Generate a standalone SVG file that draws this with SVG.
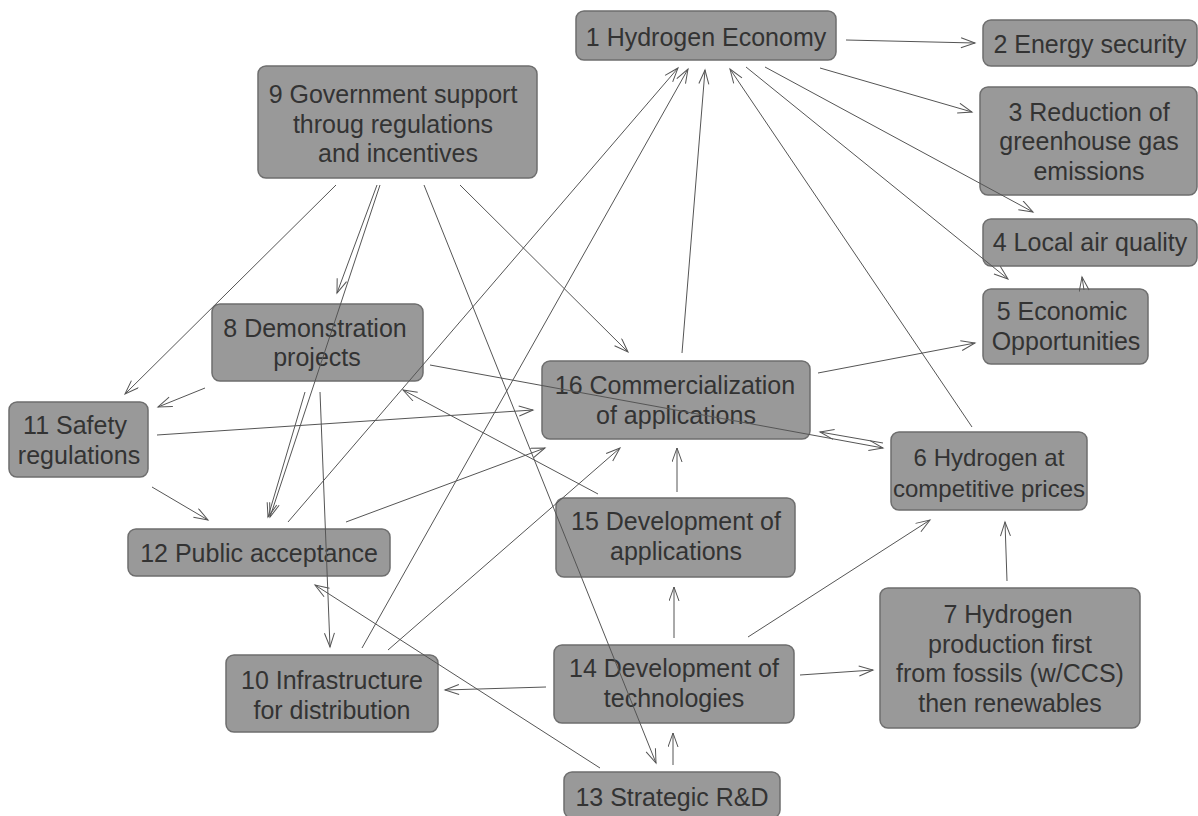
<svg xmlns="http://www.w3.org/2000/svg" width="1198" height="816" viewBox="0 0 1198 816">
<style>
.box{fill:#999999;stroke:#6e6e6e;stroke-width:1.5}
.t{font-family:"Liberation Sans",Arial,sans-serif;font-size:25px;fill:#333333;text-anchor:middle}
.s{font-size:24px}
.c line{stroke:#555555;stroke-width:1;fill:none;marker-end:url(#ah)}
</style>
<defs>
<marker id="ah" markerUnits="userSpaceOnUse" markerWidth="18" markerHeight="12" refX="15" refY="5.5" orient="auto">
<path d="M1,0.5 L15,5.5 L1,10.5" fill="none" stroke="#555555" stroke-width="1"/>
</marker>
</defs>
<rect width="1198" height="816" fill="#ffffff"/>
<g id="nodes">
<g id="n1"><rect class="box" x="576" y="11" width="260" height="49" rx="8"/><text class="t" x="706" y="46">1 Hydrogen Economy</text></g>
<g id="n2"><rect class="box" x="983" y="20" width="214" height="46" rx="8"/><text class="t" x="1090" y="53">2 Energy security</text></g>
<g id="n3"><rect class="box" x="980" y="87" width="217" height="108" rx="8"/><text class="t" x="1089" y="121">3 Reduction of</text><text class="t" x="1089" y="150">greenhouse gas</text><text class="t" x="1089" y="180">emissions</text></g>
<g id="n4"><rect class="box" x="983" y="219" width="214" height="47" rx="8"/><text class="t" x="1090" y="251">4 Local air quality</text></g>
<g id="n5"><rect class="box" x="983" y="289" width="165" height="75" rx="8"/><text class="t" x="1062" y="320">5 Economic</text><text class="t" x="1066" y="350">Opportunities</text></g>
<g id="n6"><rect class="box" x="891" y="432" width="196" height="78" rx="8"/><text class="t s" x="989" y="466">6 Hydrogen at</text><text class="t s" x="989" y="497">competitive prices</text></g>
<g id="n7"><rect class="box" x="880" y="588" width="260" height="140" rx="8"/><text class="t" x="1008" y="623">7 Hydrogen</text><text class="t" x="1010" y="653">production first</text><text class="t" x="1010" y="682">from fossils (w/CCS)</text><text class="t" x="1010" y="712">then renewables</text></g>
<g id="n8"><rect class="box" x="212" y="304" width="211" height="77" rx="8"/><text class="t" x="315" y="337">8 Demonstration</text><text class="t" x="317" y="366">projects</text></g>
<g id="n9"><rect class="box" x="258" y="66" width="279" height="112" rx="8"/><text class="t" x="393" y="103">9 Government support</text><text class="t" x="393" y="133">throug regulations</text><text class="t" x="398" y="162">and incentives</text></g>
<g id="n10"><rect class="box" x="226" y="655" width="212" height="77" rx="8"/><text class="t" x="332" y="689">10 Infrastructure</text><text class="t" x="332" y="719">for distribution</text></g>
<g id="n11"><rect class="box" x="9" y="402" width="139" height="75" rx="8"/><text class="t" x="75" y="434">11 Safety</text><text class="t" x="79" y="464">regulations</text></g>
<g id="n12"><rect class="box" x="128" y="529" width="262" height="47" rx="8"/><text class="t" x="259" y="562">12 Public acceptance</text></g>
<g id="n13"><rect class="box" x="564" y="772" width="216" height="46" rx="8"/><text class="t" x="672" y="806">13 Strategic R&amp;D</text></g>
<g id="n14"><rect class="box" x="554" y="645" width="240" height="78" rx="8"/><text class="t" x="674" y="677">14 Development of</text><text class="t" x="674" y="707">technologies</text></g>
<g id="n15"><rect class="box" x="556" y="498" width="239" height="79" rx="8"/><text class="t" x="676" y="530">15 Development of</text><text class="t" x="676" y="560">applications</text></g>
<g id="n16"><rect class="box" x="542" y="361" width="268" height="78" rx="8"/><text class="t" x="675" y="394">16 Commercialization</text><text class="t" x="676" y="424">of applications</text></g>
</g>
<g id="connectors" class="c">
<line x1="846" y1="40" x2="975" y2="43"/>
<line x1="820" y1="68" x2="972" y2="112"/>
<line x1="765" y1="67" x2="1033" y2="212"/>
<line x1="746" y1="67" x2="1008" y2="279"/>
<line x1="1084" y1="290" x2="1082" y2="277"/>
<line x1="972" y1="427" x2="730" y2="69"/>
<line x1="682" y1="353" x2="705" y2="70"/>
<line x1="288" y1="522" x2="678" y2="68"/>
<line x1="362" y1="648" x2="688" y2="69"/>
<line x1="460" y1="185" x2="628" y2="352"/>
<line x1="336" y1="185" x2="125" y2="394"/>
<line x1="205" y1="388" x2="158" y2="407"/>
<line x1="377" y1="185" x2="337" y2="293"/>
<line x1="380" y1="185" x2="270" y2="517"/>
<line x1="305" y1="392" x2="268" y2="517"/>
<line x1="320" y1="392" x2="330" y2="647"/>
<line x1="424" y1="185" x2="656" y2="763"/>
<line x1="673" y1="765" x2="673" y2="733"/>
<line x1="600" y1="768" x2="315" y2="585"/>
<line x1="546" y1="687" x2="445" y2="690"/>
<line x1="674" y1="638" x2="674" y2="587"/>
<line x1="800" y1="675" x2="873" y2="670"/>
<line x1="748" y1="637" x2="930" y2="520"/>
<line x1="1007" y1="581" x2="1005" y2="522"/>
<line x1="677" y1="492" x2="677" y2="448"/>
<line x1="598" y1="494" x2="403" y2="390"/>
<line x1="157" y1="435" x2="533" y2="410"/>
<line x1="346" y1="522" x2="545" y2="448"/>
<line x1="388" y1="650" x2="620" y2="448"/>
<line x1="818" y1="373" x2="975" y2="343"/>
<line x1="430" y1="365" x2="883" y2="448"/>
<line x1="883" y1="443" x2="820" y2="432"/>
<line x1="152" y1="487" x2="208" y2="520"/>
</g>
</svg>
